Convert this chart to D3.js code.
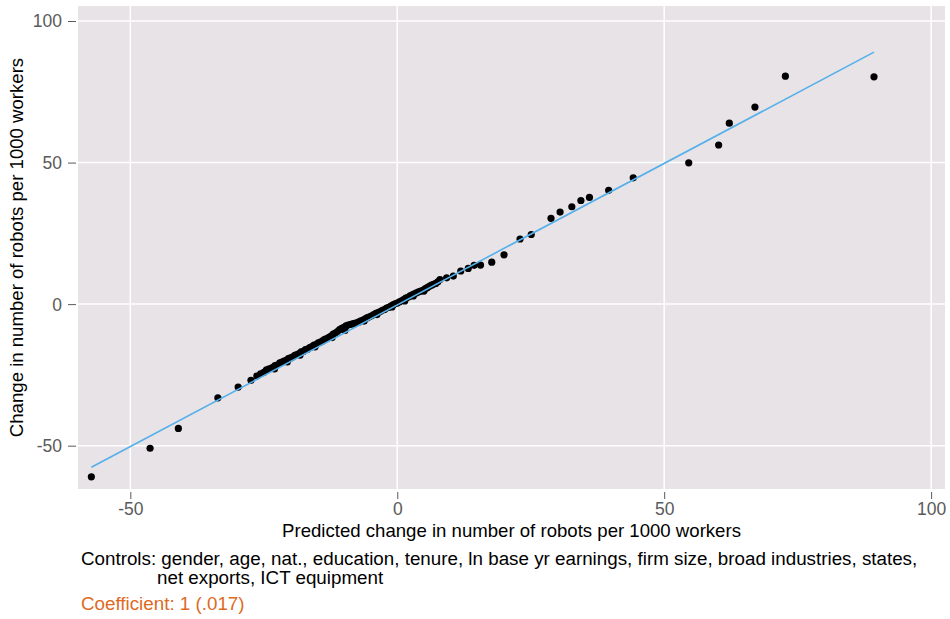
<!DOCTYPE html>
<meta charset="utf-8">
<script src="https://d3js.org/d3.v7.min.js"></script>
<style>
  body { margin: 0; background: #fff; }
  text { font-family: "Liberation Sans", Arial, sans-serif; }
</style>
<div id="chart"></div>
<script>
// ticks
var xTicks = [-50, 0, 50, 100];
var yTicks = [-50, 0, 50, 100];

// scattered points (predicted, actual)
var outerPoints = [
  [-57.3, -61.0], [-46.3, -50.9], [-41.0, -43.9], [-33.6, -33.1], [-29.8, -29.3],
  [-27.4, -26.9], [-26.3, -25.4],
  [8.0, 8.7], [9.25, 9.3], [10.5, 9.9], [11.9, 11.7], [13.3, 12.6], [14.4, 13.7],
  [15.6, 13.8], [17.7, 14.8], [20.0, 17.4], [23.0, 23.0], [25.1, 24.6], [28.8, 30.3],
  [30.5, 32.5], [32.7, 34.4], [34.4, 36.6], [36.0, 37.7], [39.6, 40.2], [44.2, 44.6],
  [54.6, 49.9], [60.2, 56.2], [62.2, 63.9], [67.0, 69.6], [72.7, 80.5], [89.3, 80.3]
];

// the dense band in the middle
var densePoints = [
  [-25.6,-24.6],[-25.0,-24.1],[-24.5,-23.2],[-24.0,-22.9],[-23.4,-22.4],[-22.9,-21.7],
  [-22.5,-21.5],[-22.0,-20.7],[-21.6,-20.5],[-21.2,-20.1],[-20.8,-19.9],[-20.4,-19.2],
  [-20.0,-19.0],[-19.6,-18.7],[-19.2,-18.1],[-18.8,-17.8],[-18.4,-17.5],[-18.0,-16.9],
  [-17.6,-16.7],[-17.2,-16.1],[-16.8,-15.9],[-16.4,-15.4],[-16.0,-15.0],[-15.6,-14.5],
  [-15.2,-14.3],[-14.8,-13.7],[-14.4,-13.4],[-14.0,-13.0],[-13.6,-12.4],[-13.2,-12.2],
  [-12.8,-11.7],[-12.4,-11.3],[-12.0,-10.6],[-11.6,-10.2],[-11.2,-9.7],[-10.8,-9.0],
  [-10.4,-8.6],[-10.0,-8.2],[-9.6,-7.7],[-9.2,-7.4],[-8.8,-7.2],[-8.4,-7.0],
  [-8.0,-6.8],[-7.6,-6.6],[-7.2,-6.3],[-6.8,-5.9],[-6.4,-5.6],[-6.0,-5.2],
  [-5.6,-4.8],[-5.2,-4.5],[-4.8,-4.1],[-4.4,-3.7],[-4.0,-3.3],[-3.6,-3.0],
  [-3.2,-2.6],[-2.8,-2.2],[-2.4,-1.9],[-2.0,-1.4],[-1.6,-1.1],[-1.2,-0.7],
  [-0.8,-0.3],[-0.4,0.1],[0.0,0.4],[0.4,0.8],[0.8,1.2],[1.2,1.6],
  [1.6,2.1],[2.0,2.4],[2.4,2.9],[2.8,3.3],[3.2,3.6],[3.6,4.0],
  [4.0,4.3],[4.4,4.6],[4.8,4.9],[5.2,5.4],[5.6,5.8],[6.0,6.3],
  [6.4,6.7],[6.8,7.0],[7.2,7.3],[7.6,7.9],
  [-18.2,-18.0],[-12.2,-11.8],[-6.2,-6.0],[-1.0,-1.0],[3.0,2.9],[5.0,4.6],
  [-23.0,-22.9],[-20.6,-20.4],[-15.4,-15.1],[-9.8,-9.3],[-3.8,-3.7],[1.4,1.1]
];

// fitted line
var fitIntercept = -0.3;
var fitSlope = 1.0;

var width = 950, height = 619;
var pLeft = 78, pRight = 945, pTop = 6, pBottom = 489;

var svg = d3.select("#chart").append("svg")
  .attr("width", width)
  .attr("height", height);

var x = d3.scaleLinear().domain([-59.8, 102.6]).range([pLeft, pRight]);
var y = d3.scaleLinear().domain([-65.3, 105.3]).range([pBottom, pTop]);

var fmt = d => String(d); // plain hyphen like the original

// panel
svg.append("rect")
  .attr("x", pLeft).attr("y", pTop)
  .attr("width", pRight - pLeft).attr("height", pBottom - pTop)
  .attr("fill", "#e7e3e7");

// grid
svg.selectAll(".gx").data(xTicks).enter().append("line")
  .attr("x1", d => x(d)).attr("x2", d => x(d))
  .attr("y1", pTop).attr("y2", pBottom)
  .attr("stroke", "#fff").attr("stroke-width", 1.5);
svg.selectAll(".gy").data(yTicks).enter().append("line")
  .attr("y1", d => y(d)).attr("y2", d => y(d))
  .attr("x1", pLeft).attr("x2", pRight)
  .attr("stroke", "#fff").attr("stroke-width", 1.5);

// axes
var xAxis = svg.append("g")
  .attr("transform", "translate(0," + (pBottom + 3) + ")")
  .call(d3.axisBottom(x).tickValues(xTicks).tickSize(7).tickPadding(4).tickFormat(fmt));
var yAxis = svg.append("g")
  .attr("transform", "translate(" + (pLeft - 2) + ",0)")
  .call(d3.axisLeft(y).tickValues(yTicks).tickSize(8).tickPadding(6).tickFormat(fmt));
[xAxis, yAxis].forEach(function(a) {
  a.select(".domain").remove();
  a.selectAll("line").attr("stroke", "#5a5a5a");
  a.selectAll("text")
    .attr("fill", "#5a5a5a")
    .style("font-size", "17.5px")
    .style("font-family", "'Liberation Sans', Arial, sans-serif");
});
yAxis.selectAll("text").attr("dy", "0.34em");

// points
var allPoints = outerPoints.concat(densePoints);
svg.append("g").selectAll("circle").data(allPoints).enter().append("circle")
  .attr("cx", d => x(d[0]))
  .attr("cy", d => y(d[1]))
  .attr("r", 3.6)
  .attr("fill", "#000");

// fit line over the range of x
var xr = d3.extent(allPoints, d => d[0]);
svg.append("line")
  .attr("x1", x(xr[0])).attr("y1", y(fitIntercept + fitSlope * xr[0]))
  .attr("x2", x(xr[1])).attr("y2", y(fitIntercept + fitSlope * xr[1]))
  .attr("stroke", "#55b0ea").attr("stroke-width", 1.6);

// titles
svg.append("text")
  .attr("x", (pLeft + pRight) / 2).attr("y", 537)
  .attr("text-anchor", "middle")
  .style("font-size", "18.6px")
  .text("Predicted change in number of robots per 1000 workers");

svg.append("text")
  .attr("transform", "translate(23," + ((pTop + pBottom) / 2) + ") rotate(-90)")
  .attr("text-anchor", "middle")
  .style("font-size", "18.6px")
  .text("Change in number of robots per 1000 workers");

svg.append("text")
  .attr("x", 81).attr("y", 565)
  .style("font-size", "18.8px")
  .text("Controls: gender, age, nat., education, tenure, ln base yr earnings, firm size, broad industries, states,");
svg.append("text")
  .attr("x", 157).attr("y", 584)
  .style("font-size", "18.8px")
  .text("net exports, ICT equipment");
svg.append("text")
  .attr("x", 81).attr("y", 610)
  .attr("fill", "#dd6a1f")
  .style("font-size", "18.8px")
  .text("Coefficient: 1 (.017)");
</script>
